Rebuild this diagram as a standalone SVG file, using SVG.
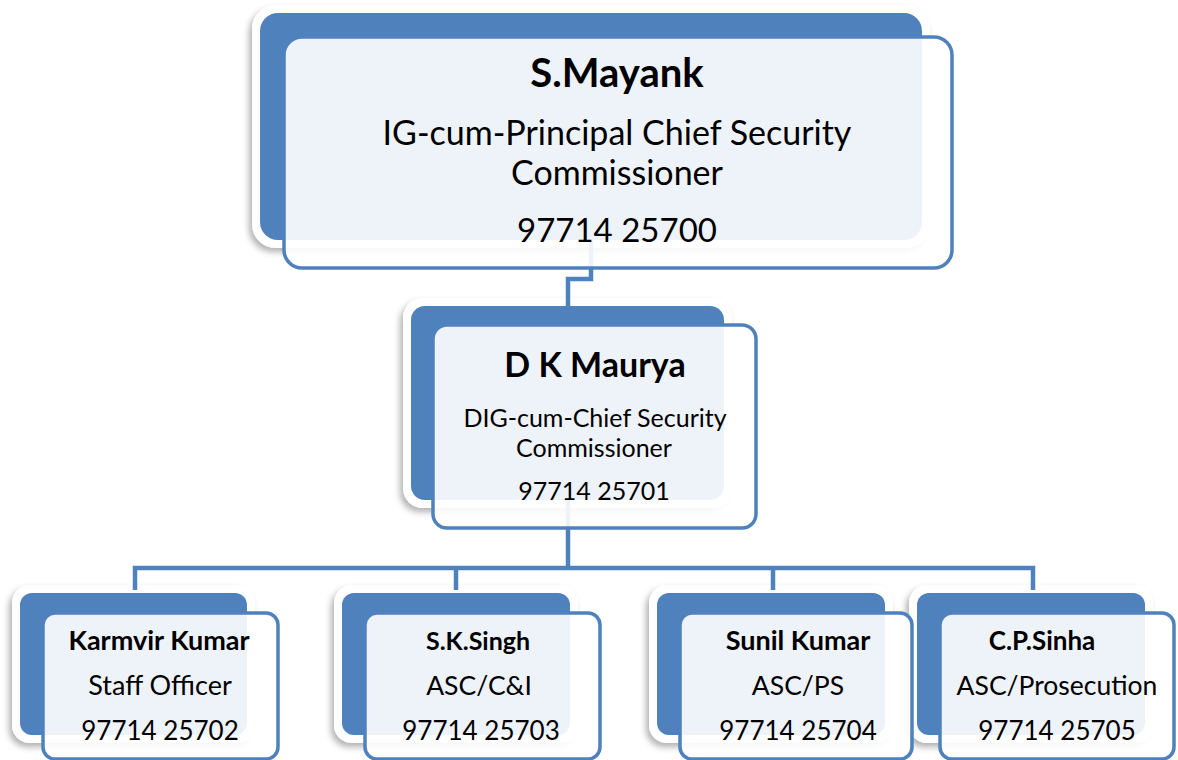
<svg xmlns="http://www.w3.org/2000/svg" width="1178" height="760" viewBox="0 0 1178 760">
<defs>
<filter id="sh" x="-10%" y="-10%" width="120%" height="125%">
<feDropShadow dx="-3" dy="4" stdDeviation="3" flood-color="#000" flood-opacity="0.3"/>
</filter>
<style>
.halo{fill:#fff;filter:url(#sh)}
.back{fill:#4f81bd}
.front{fill:#fff;fill-opacity:0.9;stroke:#4f81bd;stroke-width:3.5}
.conn{fill:none;stroke:#4f81bd;stroke-width:4.5}
text{font-family:Lato,"Open Sans","Liberation Sans",sans-serif;fill:#000;text-anchor:middle}
.b{font-weight:bold}
</style>
</defs>
<rect width="1178" height="760" fill="#fff"/>
<g id="backs">
<rect class="halo" x="252" y="5" width="678" height="243" rx="24"/>
<rect class="back" x="260" y="13" width="662" height="227" rx="18"/>
<rect class="halo" x="403" y="298" width="329" height="210" rx="20"/>
<rect class="back" x="411" y="306" width="313" height="194" rx="14"/>
<rect class="halo" x="12" y="585" width="243" height="158" rx="18"/>
<rect class="back" x="20" y="593" width="227" height="142" rx="12"/>
<rect class="halo" x="334" y="585" width="244" height="158" rx="18"/>
<rect class="back" x="342" y="593" width="228" height="142" rx="12"/>
<rect class="halo" x="649" y="585" width="244" height="158" rx="18"/>
<rect class="back" x="657" y="593" width="228" height="142" rx="12"/>
<rect class="halo" x="909" y="585" width="244" height="158" rx="18"/>
<rect class="back" x="917" y="593" width="228" height="142" rx="12"/>
</g>
<g id="connectors">
<path class="conn" d="M591 240 V279 H568 V306"/>
<path class="conn" d="M568 500 V568"/>
<path class="conn" d="M135 590 V568 H1033 V590"/>
<path class="conn" d="M456 568 V590"/>
<path class="conn" d="M773 568 V590"/>
</g>
<g id="n-mayank">
<rect class="front" x="284" y="37" width="668" height="231" rx="18"/>
<text class="b" x="617" y="87" font-size="40">S.Mayank</text>
<text x="617" y="145" font-size="34">IG-cum-Principal Chief Security</text>
<text x="617" y="185" font-size="34">Commissioner</text>
<text x="617" y="242" font-size="33">97714 25700</text>
</g>
<g id="n-maurya">
<rect class="front" x="433" y="325" width="323" height="203" rx="14"/>
<text class="b" x="595" y="377" font-size="34">D K Maurya</text>
<text x="595" y="427" font-size="25">DIG-cum-Chief Security</text>
<text x="594" y="457" font-size="25">Commissioner</text>
<text x="594" y="500" font-size="25">97714 25701</text>
</g>
<g id="n-karmvir">
<rect class="front" x="43" y="613" width="235" height="146" rx="12"/>
<text class="b" x="159" y="650" font-size="27">Karmvir Kumar</text>
<text x="160" y="695" font-size="27">Staff Officer</text>
<text x="160" y="740" font-size="26">97714 25702</text>
</g>
<g id="n-singh">
<rect class="front" x="365" y="613" width="235" height="146" rx="12"/>
<text class="b" x="478" y="650" font-size="25">S.K.Singh</text>
<text x="479" y="695" font-size="26.5">ASC/C&amp;I</text>
<text x="481" y="740" font-size="26">97714 25703</text>
</g>
<g id="n-sunil">
<rect class="front" x="680" y="613" width="232" height="146" rx="12"/>
<text class="b" x="798" y="650" font-size="27">Sunil Kumar</text>
<text x="798" y="695" font-size="26.5">ASC/PS</text>
<text x="798" y="740" font-size="26">97714 25704</text>
</g>
<g id="n-sinha">
<rect class="front" x="940" y="613" width="234" height="146" rx="12"/>
<text class="b" x="1042" y="650" font-size="26">C.P.Sinha</text>
<text x="1057" y="695" font-size="26.5">ASC/Prosecution</text>
<text x="1057" y="740" font-size="26">97714 25705</text>
</g>
</svg>
